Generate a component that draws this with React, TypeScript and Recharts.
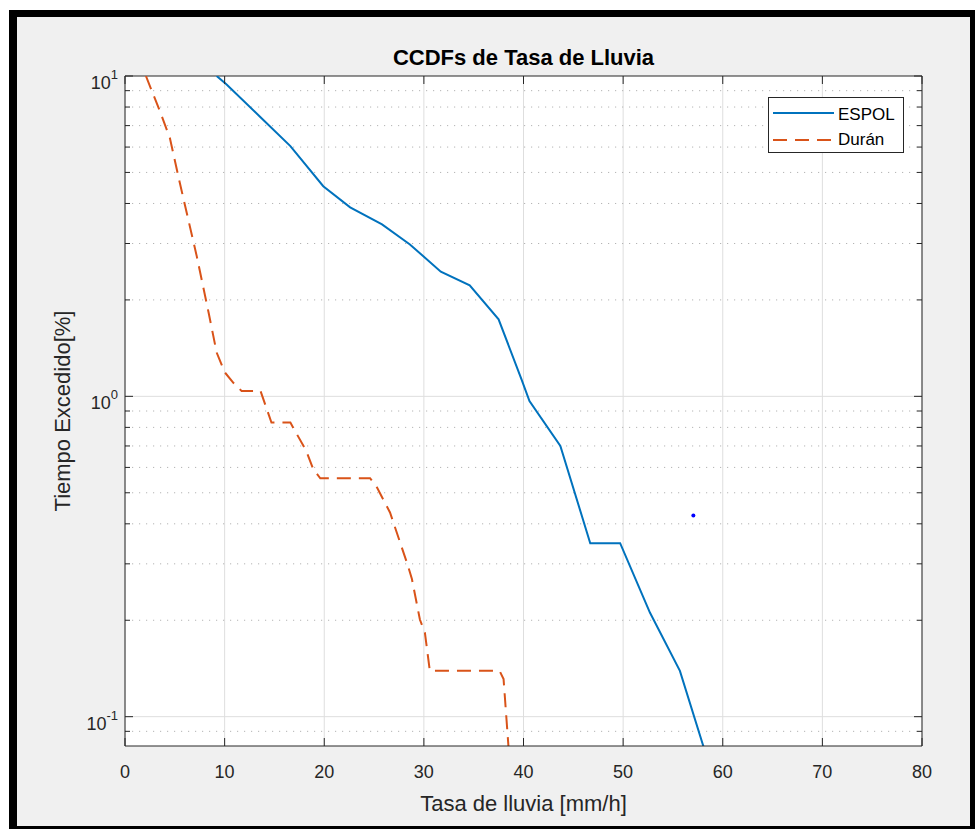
import React from "react";
import { ComposedChart, Line, Scatter, XAxis, YAxis, CartesianGrid, ReferenceLine, Legend, Label } from "recharts";

// rain rate [mm/h] vs time exceeded [%]
const espolRate = [9.2, 10.2, 13.5, 16.6, 19.9, 22.6, 25.8, 28.6, 31.7, 34.6, 37.5, 39.8, 40.6, 43.7, 46.7, 49.7, 52.7, 55.7, 58.1];
const espolTime = [10, 9.41, 7.49, 6.04, 4.53, 3.89, 3.44, 2.98, 2.45, 2.22, 1.74, 1.13, 0.967, 0.7, 0.348, 0.348, 0.211, 0.139, 0.08];

const duranRate = [2.1, 3.5, 4.5, 5.5, 7.2, 8.4, 9.2, 10.0, 10.9, 11.7, 13.6, 14.7, 16.6, 18.2, 18.9, 19.6, 24.6, 25.3, 26.6, 28.4, 28.8, 29.6, 30.1, 30.6, 37.6, 38.0, 38.5];
const duranTime = [10, 7.77, 6.41, 4.64, 2.74, 1.82, 1.37, 1.19, 1.1, 1.04, 1.04, 0.828, 0.828, 0.675, 0.592, 0.555, 0.555, 0.519, 0.434, 0.296, 0.269, 0.201, 0.183, 0.139, 0.139, 0.131, 0.08];

const strayRate = [57.05];
const strayTime = [0.425];

const xTicks = [0, 10, 20, 30, 40, 50, 60, 70, 80];
const yMajor = [0.1, 1, 10];
const yMinor = [0.09, 0.2, 0.3, 0.4, 0.5, 0.6, 0.7, 0.8, 0.9, 2, 3, 4, 5, 6, 7, 8, 9];
const yTicks = [...yMinor, ...yMajor].sort((a, b) => a - b);

const espolData = espolRate.map((r, i) => ({ rate: r, time: espolTime[i] }));
const duranData = duranRate.map((r, i) => ({ rate: r, time: duranTime[i] }));
const strayData = strayRate.map((r, i) => ({ rate: r, time: strayTime[i] }));

const W = 975;
const H = 829;
const Y_AXIS_W = 125;
const X_AXIS_H = 83;
const MARGIN = { top: 76, right: 53, bottom: 0, left: 0 };
const PLOT_W = W - Y_AXIS_W - MARGIN.right;
const PLOT_H = H - MARGIN.top - X_AXIS_H;

const FONT = "'Liberation Sans', Arial, Helvetica, sans-serif";
const AXIS = "#262626";
const BLUE = "#0072BD";
const ORANGE = "#D95319";
const DASH = "14 8";

const isDecade = (v: number) => Math.abs(Math.log10(v) - Math.round(Math.log10(v))) < 1e-9;

const XTick = (props: any) => {
  const { x, y, payload } = props;
  return (
    <g>
      <line x1={x} x2={x} y1={y} y2={y - 8} stroke={AXIS} />
      <line x1={x} x2={x} y1={y - PLOT_H} y2={y - PLOT_H + 8} stroke={AXIS} />
      <text x={x} y={y + 32} textAnchor="middle" fontSize={18} fontFamily={FONT} fill={AXIS}>
        {payload.value}
      </text>
    </g>
  );
};

const YTick = (props: any) => {
  const { x, y, payload } = props;
  const v = payload.value;
  const major = isDecade(v);
  const len = major ? 8 : 5;
  return (
    <g>
      <line x1={x} x2={x + len} y1={y} y2={y} stroke={AXIS} />
      <line x1={x + PLOT_W - len} x2={x + PLOT_W} y1={y} y2={y} stroke={AXIS} />
      {major && (
        <text x={x - 7} y={y + 13} textAnchor="end" fontSize={18} fontFamily={FONT} fill={AXIS}>
          10
          <tspan dy={-10} fontSize={13}>
            {String(Math.round(Math.log10(v)))}
          </tspan>
        </text>
      )}
    </g>
  );
};

const LegendBox = () => (
  <svg width={136} height={56} style={{ display: "block" }}>
    <rect x={0.5} y={0.5} width={135} height={55} fill="#fff" stroke={AXIS} />
    <line x1={5} x2={66} y1={16} y2={16} stroke={BLUE} strokeWidth={2} />
    <text x={70} y={23} fontSize={17} fontFamily={FONT} fill="#000">ESPOL</text>
    <line x1={5} x2={66} y1={43} y2={43} stroke={ORANGE} strokeWidth={2} strokeDasharray={DASH} />
    <text x={70} y={48} fontSize={17} fontFamily={FONT} fill="#000">Durán</text>
  </svg>
);

export default function App() {
  return (
    <div style={{ position: "absolute", left: 0, top: 0, width: W, height: H, background: "#fff", overflow: "hidden" }}>
      <div style={{ position: "absolute", left: 9, top: 10, width: 966, height: 819, background: "#000" }} />
      <div style={{ position: "absolute", left: 17, top: 17, width: 953, height: 809, background: "#f0f0f0" }} />
      <div
        style={{
          position: "absolute",
          left: Y_AXIS_W,
          top: 47,
          width: PLOT_W,
          textAlign: "center",
          fontFamily: FONT,
          fontWeight: "bold",
          fontSize: 22,
          lineHeight: "22px",
          color: "#000",
        }}
      >
        CCDFs de Tasa de Lluvia
      </div>
      <div style={{ position: "absolute", left: 0, top: 0 }}>
        <ComposedChart width={W} height={H} margin={MARGIN}>
          <CartesianGrid horizontal={false} vertical={true} stroke="#dedede" fill="#fff" />
          {yMinor.map((v) => (
            <ReferenceLine key={"m" + v} y={v} stroke="#b4b4b4" strokeDasharray="1.2 5.8" />
          ))}
          {yMajor.slice(0, 2).map((v) => (
            <ReferenceLine key={"M" + v} y={v} stroke="#dedede" />
          ))}
          <ReferenceLine y={10} stroke={AXIS} />
          <ReferenceLine x={80} stroke={AXIS} />
          <XAxis
            dataKey="rate"
            type="number"
            domain={[0, 80]}
            ticks={xTicks}
            allowDataOverflow
            height={X_AXIS_H}
            tickSize={0}
            tickMargin={0}
            tickLine={false}
            axisLine={{ stroke: AXIS }}
            tick={<XTick />}
            interval={0}
          >
            <Label
              content={(p: any) => {
                const vb = p.viewBox;
                return (
                  <text x={vb.x + vb.width / 2} y={vb.y + 65} textAnchor="middle" fontSize={22} fontFamily={FONT} fill={AXIS}>
                    Tasa de lluvia [mm/h]
                  </text>
                );
              }}
            />
          </XAxis>
          <YAxis
            dataKey="time"
            type="number"
            scale="log"
            domain={[0.081, 10]}
            ticks={yTicks}
            allowDataOverflow
            width={Y_AXIS_W}
            tickSize={0}
            tickMargin={0}
            tickLine={false}
            axisLine={{ stroke: AXIS }}
            tick={<YTick />}
            interval={0}
          >
            <Label
              content={(p: any) => {
                const vb = p.viewBox;
                const cx = vb.x + 70;
                const cy = vb.y + vb.height / 2;
                return (
                  <text x={cx} y={cy} transform={`rotate(-90 ${cx} ${cy})`} textAnchor="middle" fontSize={22} fontFamily={FONT} fill={AXIS}>
                    Tiempo Excedido[%]
                  </text>
                );
              }}
            />
          </YAxis>
          <Line
            data={espolData}
            dataKey="time"
            name="ESPOL"
            type="linear"
            stroke={BLUE}
            strokeWidth={2}
            dot={false}
            activeDot={false}
            isAnimationActive={false}
          />
          <Line
            data={duranData}
            dataKey="time"
            name="Durán"
            type="linear"
            stroke={ORANGE}
            strokeWidth={2}
            strokeDasharray={DASH}
            dot={false}
            activeDot={false}
            isAnimationActive={false}
          />
          <Scatter
            data={strayData}
            dataKey="time"
            fill="#0000ff"
            legendType="none"
            isAnimationActive={false}
            shape={(p: any) => <circle cx={p.cx} cy={p.cy} r={2} fill="#0000ff" />}
          />
          <Legend
            layout="vertical"
            align="center"
            verticalAlign="middle"
            wrapperStyle={{ left: 768, top: 97, width: 136, height: 56 }}
            content={() => <LegendBox />}
          />
        </ComposedChart>
      </div>
    </div>
  );
}
